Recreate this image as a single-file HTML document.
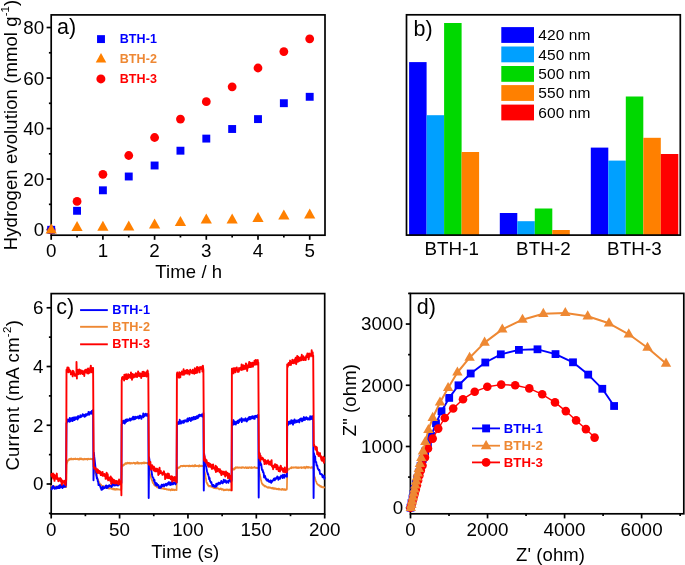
<!DOCTYPE html>
<html><head><meta charset="utf-8"><style>
html,body{margin:0;padding:0;background:#fff;width:685px;height:565px;overflow:hidden}
svg{display:block;font-family:"Liberation Sans", sans-serif;will-change:transform}
</style></head><body>
<svg width="685" height="565" viewBox="0 0 685 565">
<rect x="51.2" y="14.9" width="273.80" height="220.30" fill="none" stroke="#000" stroke-width="1.7"/>
<line x1="46.60" y1="229.60" x2="51.20" y2="229.60" stroke="#000" stroke-width="1.7"/>
<line x1="48.90" y1="204.34" x2="51.20" y2="204.34" stroke="#000" stroke-width="1.7"/>
<line x1="46.60" y1="179.08" x2="51.20" y2="179.08" stroke="#000" stroke-width="1.7"/>
<line x1="48.90" y1="153.82" x2="51.20" y2="153.82" stroke="#000" stroke-width="1.7"/>
<line x1="46.60" y1="128.56" x2="51.20" y2="128.56" stroke="#000" stroke-width="1.7"/>
<line x1="48.90" y1="103.30" x2="51.20" y2="103.30" stroke="#000" stroke-width="1.7"/>
<line x1="46.60" y1="78.04" x2="51.20" y2="78.04" stroke="#000" stroke-width="1.7"/>
<line x1="48.90" y1="52.78" x2="51.20" y2="52.78" stroke="#000" stroke-width="1.7"/>
<line x1="46.60" y1="27.52" x2="51.20" y2="27.52" stroke="#000" stroke-width="1.7"/>
<line x1="51.20" y1="235.20" x2="51.20" y2="239.80" stroke="#000" stroke-width="1.7"/>
<line x1="77.05" y1="235.20" x2="77.05" y2="237.50" stroke="#000" stroke-width="1.7"/>
<line x1="102.90" y1="235.20" x2="102.90" y2="239.80" stroke="#000" stroke-width="1.7"/>
<line x1="128.75" y1="235.20" x2="128.75" y2="237.50" stroke="#000" stroke-width="1.7"/>
<line x1="154.60" y1="235.20" x2="154.60" y2="239.80" stroke="#000" stroke-width="1.7"/>
<line x1="180.45" y1="235.20" x2="180.45" y2="237.50" stroke="#000" stroke-width="1.7"/>
<line x1="206.30" y1="235.20" x2="206.30" y2="239.80" stroke="#000" stroke-width="1.7"/>
<line x1="232.15" y1="235.20" x2="232.15" y2="237.50" stroke="#000" stroke-width="1.7"/>
<line x1="258.00" y1="235.20" x2="258.00" y2="239.80" stroke="#000" stroke-width="1.7"/>
<line x1="283.85" y1="235.20" x2="283.85" y2="237.50" stroke="#000" stroke-width="1.7"/>
<line x1="309.70" y1="235.20" x2="309.70" y2="239.80" stroke="#000" stroke-width="1.7"/>
<circle cx="51.20" cy="229.80" r="4.4" fill="#ff0000"/>
<circle cx="77.05" cy="201.40" r="4.4" fill="#ff0000"/>
<circle cx="102.90" cy="174.30" r="4.4" fill="#ff0000"/>
<circle cx="128.75" cy="155.50" r="4.4" fill="#ff0000"/>
<circle cx="154.60" cy="137.50" r="4.4" fill="#ff0000"/>
<circle cx="180.45" cy="119.10" r="4.4" fill="#ff0000"/>
<circle cx="206.30" cy="101.70" r="4.4" fill="#ff0000"/>
<circle cx="232.15" cy="86.80" r="4.4" fill="#ff0000"/>
<circle cx="258.00" cy="68.00" r="4.4" fill="#ff0000"/>
<circle cx="283.85" cy="51.60" r="4.4" fill="#ff0000"/>
<circle cx="309.70" cy="38.80" r="4.4" fill="#ff0000"/>
<rect x="47.25" y="225.85" width="7.9" height="7.9" fill="#0000ff"/>
<rect x="73.10" y="206.85" width="7.9" height="7.9" fill="#0000ff"/>
<rect x="98.95" y="186.35" width="7.9" height="7.9" fill="#0000ff"/>
<rect x="124.80" y="172.55" width="7.9" height="7.9" fill="#0000ff"/>
<rect x="150.65" y="161.55" width="7.9" height="7.9" fill="#0000ff"/>
<rect x="176.50" y="146.75" width="7.9" height="7.9" fill="#0000ff"/>
<rect x="202.35" y="134.65" width="7.9" height="7.9" fill="#0000ff"/>
<rect x="228.20" y="125.05" width="7.9" height="7.9" fill="#0000ff"/>
<rect x="254.05" y="115.15" width="7.9" height="7.9" fill="#0000ff"/>
<rect x="279.90" y="99.25" width="7.9" height="7.9" fill="#0000ff"/>
<rect x="305.75" y="92.85" width="7.9" height="7.9" fill="#0000ff"/>
<polygon points="45.60,233.60 56.80,233.60 51.20,223.60" fill="#ff8000"/>
<polygon points="71.45,231.00 82.65,231.00 77.05,221.00" fill="#ff8000"/>
<polygon points="97.30,230.80 108.50,230.80 102.90,220.80" fill="#ff8000"/>
<polygon points="123.15,230.40 134.35,230.40 128.75,220.40" fill="#ff8000"/>
<polygon points="149.00,228.60 160.20,228.60 154.60,218.60" fill="#ff8000"/>
<polygon points="174.85,226.00 186.05,226.00 180.45,216.00" fill="#ff8000"/>
<polygon points="200.70,223.40 211.90,223.40 206.30,213.40" fill="#ff8000"/>
<polygon points="226.55,223.40 237.75,223.40 232.15,213.40" fill="#ff8000"/>
<polygon points="252.40,221.90 263.60,221.90 258.00,211.90" fill="#ff8000"/>
<polygon points="278.25,219.40 289.45,219.40 283.85,209.40" fill="#ff8000"/>
<polygon points="304.10,218.40 315.30,218.40 309.70,208.40" fill="#ff8000"/>
<text x="44.3" y="236.20" font-size="18.8" text-anchor="end" font-weight="normal" fill="#000" letter-spacing="0.1" >0</text>
<text x="44.3" y="185.68" font-size="18.8" text-anchor="end" font-weight="normal" fill="#000" letter-spacing="0.1" >20</text>
<text x="44.3" y="135.16" font-size="18.8" text-anchor="end" font-weight="normal" fill="#000" letter-spacing="0.1" >40</text>
<text x="44.3" y="84.64" font-size="18.8" text-anchor="end" font-weight="normal" fill="#000" letter-spacing="0.1" >60</text>
<text x="44.3" y="34.12" font-size="18.8" text-anchor="end" font-weight="normal" fill="#000" letter-spacing="0.1" >80</text>
<text x="51.20" y="257.2" font-size="18.8" text-anchor="middle" font-weight="normal" fill="#000" letter-spacing="0.1" >0</text>
<text x="102.90" y="257.2" font-size="18.8" text-anchor="middle" font-weight="normal" fill="#000" letter-spacing="0.1" >1</text>
<text x="154.60" y="257.2" font-size="18.8" text-anchor="middle" font-weight="normal" fill="#000" letter-spacing="0.1" >2</text>
<text x="206.30" y="257.2" font-size="18.8" text-anchor="middle" font-weight="normal" fill="#000" letter-spacing="0.1" >3</text>
<text x="258.00" y="257.2" font-size="18.8" text-anchor="middle" font-weight="normal" fill="#000" letter-spacing="0.1" >4</text>
<text x="309.70" y="257.2" font-size="18.8" text-anchor="middle" font-weight="normal" fill="#000" letter-spacing="0.1" >5</text>
<text x="188.8" y="278.4" font-size="18.5" text-anchor="middle" font-weight="normal" fill="#000" letter-spacing="0.1" >Time / h</text>
<text transform="translate(17.2,250.3) rotate(-90)" font-size="18.5" letter-spacing="0.1">Hydrogen evolution (mmol g<tspan font-size="11.5" dy="-8">-1</tspan><tspan dy="8">)</tspan></text>
<text x="57.0" y="34.0" font-size="21.5" text-anchor="start" font-weight="normal" fill="#000" letter-spacing="0" >a)</text>
<rect x="97.05" y="35.15" width="7.9" height="7.9" fill="#0000ff"/>
<polygon points="95.75,62.40 106.25,62.40 101.00,53.00" fill="#ff8000"/>
<circle cx="100.90" cy="78.90" r="4.5" fill="#ff0000"/>
<text x="119.7" y="43.4" font-size="12.5" text-anchor="start" font-weight="bold" fill="#0000ff" letter-spacing="0.1" >BTH-1</text>
<text x="119.7" y="62.8" font-size="12.5" text-anchor="start" font-weight="bold" fill="#ee8833" letter-spacing="0.1" >BTH-2</text>
<text x="119.7" y="82.6" font-size="12.5" text-anchor="start" font-weight="bold" fill="#ff0000" letter-spacing="0.1" >BTH-3</text>
<rect x="409.10" y="62.1" width="17.5" height="173.00" fill="#0000ff"/>
<rect x="426.60" y="115.2" width="17.5" height="119.90" fill="#00a0ff"/>
<rect x="444.10" y="23.0" width="17.5" height="212.10" fill="#00d800"/>
<rect x="461.60" y="152.0" width="17.5" height="83.10" fill="#ff8000"/>
<rect x="499.80" y="213.0" width="17.5" height="22.10" fill="#0000ff"/>
<rect x="517.30" y="221.2" width="17.5" height="13.90" fill="#00a0ff"/>
<rect x="534.80" y="208.5" width="17.5" height="26.60" fill="#00d800"/>
<rect x="552.30" y="230.0" width="17.5" height="5.10" fill="#ff8000"/>
<rect x="590.80" y="147.6" width="17.5" height="87.50" fill="#0000ff"/>
<rect x="608.30" y="160.6" width="17.5" height="74.50" fill="#00a0ff"/>
<rect x="625.80" y="96.5" width="17.5" height="138.60" fill="#00d800"/>
<rect x="643.30" y="137.8" width="17.5" height="97.30" fill="#ff8000"/>
<rect x="660.80" y="154.0" width="17.5" height="81.10" fill="#ff0000"/>
<rect x="406.5" y="14.8" width="273.80" height="220.30" fill="none" stroke="#000" stroke-width="1.7"/>
<text x="451.8" y="254.8" font-size="18.8" text-anchor="middle" font-weight="normal" fill="#000" letter-spacing="0.1" >BTH-1</text>
<text x="543.4" y="254.8" font-size="18.8" text-anchor="middle" font-weight="normal" fill="#000" letter-spacing="0.1" >BTH-2</text>
<text x="634.5" y="254.8" font-size="18.8" text-anchor="middle" font-weight="normal" fill="#000" letter-spacing="0.1" >BTH-3</text>
<text x="413.6" y="35.8" font-size="21.5" text-anchor="start" font-weight="normal" fill="#000" letter-spacing="0" >b)</text>
<rect x="501.3" y="27.1" width="32.7" height="15.8" fill="#0000ff"/>
<text x="538.3" y="40.3" font-size="15.5" text-anchor="start" font-weight="normal" fill="#000" letter-spacing="0.1" >420 nm</text>
<rect x="501.3" y="46.5" width="32.7" height="15.8" fill="#00a0ff"/>
<text x="538.3" y="59.7" font-size="15.5" text-anchor="start" font-weight="normal" fill="#000" letter-spacing="0.1" >450 nm</text>
<rect x="501.3" y="66.0" width="32.7" height="15.8" fill="#00d800"/>
<text x="538.3" y="79.2" font-size="15.5" text-anchor="start" font-weight="normal" fill="#000" letter-spacing="0.1" >500 nm</text>
<rect x="501.3" y="85.1" width="32.7" height="15.8" fill="#ff8000"/>
<text x="538.3" y="98.3" font-size="15.5" text-anchor="start" font-weight="normal" fill="#000" letter-spacing="0.1" >550 nm</text>
<rect x="501.3" y="104.6" width="32.7" height="15.8" fill="#ff0000"/>
<text x="538.3" y="117.8" font-size="15.5" text-anchor="start" font-weight="normal" fill="#000" letter-spacing="0.1" >600 nm</text>
<rect x="51.2" y="293.6" width="273.50" height="220.30" fill="none" stroke="#000" stroke-width="1.7"/>
<line x1="48.90" y1="513.37" x2="51.20" y2="513.37" stroke="#000" stroke-width="1.7"/>
<line x1="46.60" y1="484.00" x2="51.20" y2="484.00" stroke="#000" stroke-width="1.7"/>
<line x1="48.90" y1="454.63" x2="51.20" y2="454.63" stroke="#000" stroke-width="1.7"/>
<line x1="46.60" y1="425.26" x2="51.20" y2="425.26" stroke="#000" stroke-width="1.7"/>
<line x1="48.90" y1="395.89" x2="51.20" y2="395.89" stroke="#000" stroke-width="1.7"/>
<line x1="46.60" y1="366.52" x2="51.20" y2="366.52" stroke="#000" stroke-width="1.7"/>
<line x1="48.90" y1="337.15" x2="51.20" y2="337.15" stroke="#000" stroke-width="1.7"/>
<line x1="46.60" y1="307.78" x2="51.20" y2="307.78" stroke="#000" stroke-width="1.7"/>
<line x1="51.20" y1="513.90" x2="51.20" y2="518.50" stroke="#000" stroke-width="1.7"/>
<line x1="85.39" y1="513.90" x2="85.39" y2="516.20" stroke="#000" stroke-width="1.7"/>
<line x1="119.58" y1="513.90" x2="119.58" y2="518.50" stroke="#000" stroke-width="1.7"/>
<line x1="153.76" y1="513.90" x2="153.76" y2="516.20" stroke="#000" stroke-width="1.7"/>
<line x1="187.95" y1="513.90" x2="187.95" y2="518.50" stroke="#000" stroke-width="1.7"/>
<line x1="222.14" y1="513.90" x2="222.14" y2="516.20" stroke="#000" stroke-width="1.7"/>
<line x1="256.32" y1="513.90" x2="256.32" y2="518.50" stroke="#000" stroke-width="1.7"/>
<line x1="290.51" y1="513.90" x2="290.51" y2="516.20" stroke="#000" stroke-width="1.7"/>
<line x1="324.70" y1="513.90" x2="324.70" y2="518.50" stroke="#000" stroke-width="1.7"/>
<path d="M51.20,487.01 L51.45,485.87 L51.71,486.62 L51.96,486.38 L52.22,486.42 L52.47,486.49 L52.73,486.05 L52.98,486.50 L53.23,486.35 L53.49,487.41 L53.74,486.64 L54.00,486.51 L54.25,486.53 L54.51,486.44 L54.76,486.35 L55.01,486.53 L55.27,486.76 L55.52,486.58 L55.78,486.89 L56.03,486.61 L56.28,486.68 L56.54,487.06 L56.79,486.82 L57.05,486.57 L57.30,486.66 L57.56,486.85 L57.81,487.20 L58.06,486.66 L58.32,486.68 L58.57,487.00 L58.83,486.53 L59.08,486.69 L59.34,486.99 L59.59,486.92 L59.84,486.81 L60.10,486.96 L60.35,486.10 L60.61,487.07 L60.86,486.58 L61.12,486.41 L61.37,486.91 L61.62,487.02 L61.88,486.74 L62.13,486.60 L62.39,486.88 L62.64,486.87 L62.89,487.24 L63.15,487.09 L63.40,486.96 L63.66,487.19 L63.91,486.87 L64.17,486.70 L64.42,487.09 L64.67,487.09 L64.93,486.90 L65.18,486.77 L65.44,487.03 L65.69,486.36 L65.95,487.16 L66.20,487.12 L66.20,487.12 L66.60,465.00 L66.60,464.51 L66.85,463.87 L67.11,462.46 L67.36,462.03 L67.61,460.53 L67.86,460.52 L68.12,460.72 L68.37,460.58 L68.62,459.34 L68.88,459.62 L69.13,459.68 L69.38,459.23 L69.63,459.75 L69.89,458.80 L70.14,459.18 L70.39,458.71 L70.65,459.42 L70.90,458.99 L71.15,458.89 L71.40,458.48 L71.66,459.50 L71.91,459.23 L72.16,459.23 L72.42,459.34 L72.67,459.10 L72.92,458.81 L73.17,458.76 L73.43,458.76 L73.68,459.41 L73.93,458.56 L74.18,458.82 L74.44,458.90 L74.69,459.07 L74.94,459.17 L75.20,458.63 L75.45,458.48 L75.70,459.00 L75.95,459.37 L76.21,459.23 L76.46,459.07 L76.71,458.91 L76.97,459.09 L77.22,458.93 L77.47,459.25 L77.72,458.76 L77.98,459.04 L78.23,458.97 L78.48,459.17 L78.74,459.07 L78.99,459.77 L79.24,459.45 L79.49,459.45 L79.75,458.39 L80.00,458.90 L80.25,458.82 L80.51,459.17 L80.76,458.32 L81.01,459.36 L81.26,459.33 L81.52,458.62 L81.77,458.72 L82.02,458.77 L82.28,459.03 L82.53,459.21 L82.78,459.63 L83.03,458.96 L83.29,459.25 L83.54,459.06 L83.79,459.55 L84.05,459.24 L84.30,459.43 L84.55,458.70 L84.80,458.97 L85.06,458.78 L85.31,459.48 L85.56,459.23 L85.82,458.94 L86.07,458.90 L86.32,459.18 L86.57,458.82 L86.83,458.76 L87.08,459.18 L87.33,459.78 L87.58,458.97 L87.84,458.88 L88.09,458.69 L88.34,458.65 L88.60,459.21 L88.85,459.31 L89.10,459.06 L89.35,459.16 L89.61,459.09 L89.86,459.10 L90.11,458.60 L90.37,458.93 L90.62,459.10 L90.87,458.84 L91.12,458.93 L91.38,458.83 L91.63,458.98 L91.88,459.34 L92.14,458.96 L92.39,459.04 L92.64,459.33 L92.89,459.29 L93.15,459.61 L93.40,458.47 L94.00,471.00 L94.00,471.26 L94.25,471.36 L94.51,472.05 L94.76,472.76 L95.01,473.34 L95.27,473.84 L95.52,474.08 L95.78,475.03 L96.03,474.98 L96.28,475.56 L96.54,476.41 L96.79,476.60 L97.04,478.03 L97.30,478.31 L97.55,479.29 L97.81,479.27 L98.06,479.79 L98.31,480.57 L98.57,481.35 L98.82,481.53 L99.07,482.36 L99.33,482.76 L99.58,483.71 L99.84,483.45 L100.09,484.33 L100.34,484.13 L100.60,484.27 L100.85,484.54 L101.10,484.58 L101.36,485.16 L101.61,485.60 L101.86,485.51 L102.12,485.81 L102.37,486.28 L102.63,486.02 L102.88,486.15 L103.13,486.15 L103.39,485.89 L103.64,486.73 L103.89,486.10 L104.15,486.95 L104.40,486.87 L104.66,487.32 L104.91,487.07 L105.16,486.95 L105.42,487.41 L105.67,487.23 L105.92,487.43 L106.18,487.58 L106.43,487.61 L106.69,487.68 L106.94,487.56 L107.19,487.82 L107.45,487.30 L107.70,487.96 L107.95,487.71 L108.21,488.46 L108.46,488.55 L108.71,487.63 L108.97,488.31 L109.22,488.27 L109.48,488.03 L109.73,488.54 L109.98,488.28 L110.24,487.93 L110.49,488.41 L110.74,488.49 L111.00,488.60 L111.25,488.23 L111.51,488.82 L111.76,488.89 L112.01,488.36 L112.27,488.54 L112.52,488.75 L112.77,488.64 L113.03,489.36 L113.28,488.93 L113.54,488.59 L113.79,488.69 L114.04,488.94 L114.30,489.67 L114.55,488.96 L114.80,489.08 L115.06,489.22 L115.31,489.08 L115.56,489.80 L115.82,488.98 L116.07,489.38 L116.33,489.23 L116.58,489.39 L116.83,488.87 L117.09,489.77 L117.34,489.22 L117.59,489.28 L117.85,489.01 L118.10,489.08 L118.36,489.49 L118.61,489.63 L118.86,489.57 L119.12,489.72 L119.37,489.58 L119.62,489.38 L119.88,489.63 L120.13,489.56 L120.39,489.36 L120.64,489.61 L120.89,489.78 L121.15,489.47 L121.40,489.29 L121.40,489.29 L121.80,465.50 L121.80,465.72 L122.05,466.06 L122.31,465.41 L122.56,465.42 L122.81,465.37 L123.06,465.73 L123.32,464.70 L123.57,465.20 L123.82,465.25 L124.08,464.43 L124.33,464.88 L124.58,464.35 L124.83,463.80 L125.09,463.82 L125.34,463.13 L125.59,463.30 L125.85,463.95 L126.10,463.12 L126.35,463.93 L126.60,463.34 L126.86,463.66 L127.11,463.36 L127.36,462.66 L127.62,463.16 L127.87,463.37 L128.12,462.96 L128.37,462.89 L128.63,463.40 L128.88,463.08 L129.13,462.76 L129.38,463.06 L129.64,463.51 L129.89,463.10 L130.14,463.52 L130.40,463.69 L130.65,463.23 L130.90,462.87 L131.15,462.81 L131.41,463.19 L131.66,463.45 L131.91,463.26 L132.17,463.34 L132.42,463.04 L132.67,463.25 L132.92,463.02 L133.18,463.05 L133.43,462.76 L133.68,462.67 L133.94,462.99 L134.19,462.80 L134.44,462.83 L134.69,463.32 L134.95,463.08 L135.20,463.98 L135.45,463.38 L135.71,462.91 L135.96,463.33 L136.21,463.20 L136.46,462.88 L136.72,463.41 L136.97,462.84 L137.22,462.15 L137.48,463.31 L137.73,462.88 L137.98,463.51 L138.23,462.86 L138.49,462.70 L138.74,463.52 L138.99,462.73 L139.25,463.11 L139.50,463.48 L139.75,463.07 L140.00,463.01 L140.26,463.07 L140.51,463.28 L140.76,462.79 L141.02,463.21 L141.27,463.20 L141.52,463.72 L141.77,462.92 L142.03,462.75 L142.28,463.24 L142.53,462.90 L142.78,463.10 L143.04,463.05 L143.29,463.36 L143.54,462.81 L143.80,462.98 L144.05,462.24 L144.30,462.74 L144.55,463.47 L144.81,462.80 L145.06,462.79 L145.31,462.64 L145.57,463.18 L145.82,463.06 L146.07,462.65 L146.32,463.20 L146.58,463.08 L146.83,463.23 L147.08,462.81 L147.34,463.52 L147.59,463.12 L147.84,462.97 L148.09,462.84 L148.35,462.93 L148.60,463.26 L149.20,470.50 L149.20,470.42 L149.45,472.05 L149.71,473.09 L149.96,474.40 L150.21,475.13 L150.47,475.73 L150.72,476.02 L150.98,477.50 L151.23,478.46 L151.48,479.05 L151.74,479.91 L151.99,480.32 L152.24,481.02 L152.50,481.48 L152.75,482.76 L153.01,482.93 L153.26,483.21 L153.51,483.37 L153.77,484.08 L154.02,484.84 L154.27,484.78 L154.53,484.64 L154.78,485.51 L155.04,485.72 L155.29,485.78 L155.54,485.92 L155.80,486.21 L156.05,486.21 L156.30,486.45 L156.56,486.14 L156.81,486.98 L157.06,486.75 L157.32,487.43 L157.57,486.35 L157.83,487.30 L158.08,487.51 L158.33,487.23 L158.59,487.57 L158.84,487.77 L159.09,487.82 L159.35,487.57 L159.60,487.78 L159.86,488.21 L160.11,488.37 L160.36,488.08 L160.62,488.15 L160.87,488.24 L161.12,488.55 L161.38,487.98 L161.63,487.95 L161.89,488.43 L162.14,488.11 L162.39,488.32 L162.65,488.57 L162.90,488.73 L163.15,488.31 L163.41,488.92 L163.66,488.20 L163.91,488.94 L164.17,488.34 L164.42,488.48 L164.68,489.10 L164.93,488.83 L165.18,488.75 L165.44,488.90 L165.69,489.21 L165.94,489.09 L166.20,489.14 L166.45,489.50 L166.71,489.01 L166.96,489.12 L167.21,489.14 L167.47,489.68 L167.72,489.67 L167.97,489.79 L168.23,489.42 L168.48,489.42 L168.74,489.75 L168.99,489.41 L169.24,489.81 L169.50,489.80 L169.75,489.40 L170.00,489.62 L170.26,489.63 L170.51,490.21 L170.76,490.49 L171.02,489.71 L171.27,489.77 L171.53,489.10 L171.78,489.87 L172.03,489.82 L172.29,489.52 L172.54,490.10 L172.79,489.41 L173.05,489.83 L173.30,489.95 L173.56,489.55 L173.81,490.19 L174.06,490.26 L174.32,489.54 L174.57,489.54 L174.82,490.15 L175.08,489.97 L175.33,489.62 L175.59,489.90 L175.84,489.96 L176.09,489.95 L176.35,490.25 L176.60,490.12 L176.60,490.12 L177.00,467.60 L177.00,468.13 L177.25,468.13 L177.51,468.01 L177.76,468.19 L178.02,468.30 L178.27,468.09 L178.53,467.42 L178.78,467.90 L179.03,467.46 L179.29,467.69 L179.54,466.99 L179.80,466.86 L180.05,466.56 L180.31,466.75 L180.56,466.12 L180.81,465.87 L181.07,465.99 L181.32,465.77 L181.58,465.95 L181.83,465.90 L182.09,465.98 L182.34,466.48 L182.59,465.78 L182.85,465.91 L183.10,465.84 L183.36,466.10 L183.61,465.55 L183.87,465.69 L184.12,465.89 L184.37,466.06 L184.63,465.89 L184.88,465.75 L185.14,465.64 L185.39,466.05 L185.65,466.33 L185.90,466.00 L186.15,465.96 L186.41,466.03 L186.66,465.62 L186.92,465.81 L187.17,465.82 L187.43,465.99 L187.68,465.89 L187.93,465.54 L188.19,466.24 L188.44,466.41 L188.70,465.82 L188.95,466.02 L189.21,465.98 L189.46,466.14 L189.71,465.46 L189.97,466.38 L190.22,465.76 L190.48,466.28 L190.73,465.92 L190.99,465.78 L191.24,465.86 L191.49,466.17 L191.75,465.64 L192.00,465.79 L192.26,465.76 L192.51,465.39 L192.77,466.29 L193.02,466.07 L193.27,465.89 L193.53,466.25 L193.78,465.61 L194.04,465.88 L194.29,466.42 L194.55,466.19 L194.80,465.23 L195.05,464.90 L195.31,465.59 L195.56,466.22 L195.82,465.76 L196.07,465.83 L196.33,466.08 L196.58,465.63 L196.83,465.96 L197.09,466.14 L197.34,466.04 L197.60,466.02 L197.85,465.72 L198.11,466.05 L198.36,465.77 L198.61,466.29 L198.87,466.67 L199.12,465.68 L199.38,465.25 L199.63,465.77 L199.89,466.01 L200.14,466.22 L200.39,466.22 L200.65,465.66 L200.90,465.66 L201.16,466.28 L201.41,465.57 L201.67,466.23 L201.92,465.83 L202.17,466.13 L202.43,466.11 L202.68,466.13 L202.94,466.15 L203.19,465.60 L203.45,465.99 L203.70,465.90 L204.30,470.50 L204.30,470.59 L204.55,471.92 L204.81,472.57 L205.06,473.61 L205.31,474.86 L205.56,476.51 L205.82,478.50 L206.07,479.68 L206.32,481.71 L206.57,482.52 L206.83,482.96 L207.08,483.10 L207.33,484.00 L207.59,484.51 L207.84,484.12 L208.09,485.31 L208.34,485.72 L208.60,485.55 L208.85,485.80 L209.10,486.53 L209.36,486.31 L209.61,485.77 L209.86,486.13 L210.11,486.19 L210.37,486.28 L210.62,485.71 L210.87,486.74 L211.12,486.41 L211.38,486.74 L211.63,486.73 L211.88,487.12 L212.14,486.86 L212.39,486.79 L212.64,487.27 L212.89,487.61 L213.15,487.17 L213.40,487.76 L213.65,487.50 L213.91,487.34 L214.16,488.03 L214.41,487.40 L214.66,488.03 L214.92,487.64 L215.17,488.00 L215.42,487.56 L215.67,487.75 L215.93,488.38 L216.18,488.19 L216.43,488.20 L216.69,488.12 L216.94,488.45 L217.19,487.96 L217.44,488.10 L217.70,488.45 L217.95,488.30 L218.20,488.39 L218.46,488.64 L218.71,488.67 L218.96,488.70 L219.21,489.31 L219.47,489.17 L219.72,489.28 L219.97,488.95 L220.22,488.86 L220.48,488.62 L220.73,488.99 L220.98,488.51 L221.24,489.01 L221.49,489.45 L221.74,489.75 L221.99,489.59 L222.25,489.08 L222.50,489.52 L222.75,489.17 L223.01,489.69 L223.26,489.44 L223.51,489.77 L223.76,490.31 L224.02,489.85 L224.27,490.30 L224.52,489.68 L224.77,489.55 L225.03,490.08 L225.28,490.22 L225.53,489.56 L225.79,489.77 L226.04,489.34 L226.29,489.73 L226.54,490.08 L226.80,489.80 L227.05,489.68 L227.30,489.44 L227.56,489.99 L227.81,490.13 L228.06,490.09 L228.31,490.00 L228.57,489.55 L228.82,490.47 L229.07,489.94 L229.32,489.92 L229.58,490.19 L229.83,489.33 L230.08,489.96 L230.34,489.95 L230.59,490.10 L230.84,490.40 L231.09,490.14 L231.35,489.45 L231.60,489.90 L231.60,489.90 L232.00,468.80 L232.00,468.86 L232.25,469.12 L232.51,468.93 L232.76,469.00 L233.01,469.76 L233.27,469.69 L233.52,469.49 L233.77,468.83 L234.03,469.68 L234.28,468.05 L234.53,468.56 L234.79,469.04 L235.04,468.13 L235.29,468.03 L235.55,467.43 L235.80,468.06 L236.05,467.21 L236.31,467.68 L236.56,467.64 L236.81,467.28 L237.07,467.87 L237.32,467.18 L237.57,467.40 L237.83,467.59 L238.08,467.48 L238.33,467.74 L238.59,467.88 L238.84,467.51 L239.09,467.44 L239.35,467.45 L239.60,467.49 L239.85,467.84 L240.11,467.54 L240.36,467.72 L240.61,467.57 L240.87,467.35 L241.12,467.86 L241.37,467.29 L241.63,467.60 L241.88,468.05 L242.13,467.28 L242.39,467.59 L242.64,467.13 L242.89,467.45 L243.15,467.16 L243.40,467.50 L243.65,467.45 L243.91,467.65 L244.16,468.08 L244.41,467.69 L244.67,467.81 L244.92,467.60 L245.17,467.54 L245.43,467.36 L245.68,467.08 L245.93,467.64 L246.19,468.11 L246.44,467.76 L246.69,467.46 L246.95,468.12 L247.20,467.49 L247.45,467.44 L247.71,467.26 L247.96,467.34 L248.21,467.56 L248.47,468.23 L248.72,467.57 L248.97,467.33 L249.23,467.46 L249.48,467.58 L249.73,467.13 L249.99,467.69 L250.24,467.86 L250.49,467.75 L250.75,467.84 L251.00,467.27 L251.25,467.15 L251.51,468.05 L251.76,468.00 L252.01,467.21 L252.27,467.74 L252.52,467.69 L252.77,467.84 L253.03,467.75 L253.28,467.54 L253.53,467.75 L253.79,467.74 L254.04,467.69 L254.29,467.15 L254.55,466.81 L254.80,467.48 L255.05,467.23 L255.31,467.80 L255.56,467.94 L255.81,467.81 L256.07,467.63 L256.32,467.77 L256.57,468.10 L256.83,467.54 L257.08,468.04 L257.33,467.98 L257.59,467.85 L257.84,468.22 L258.09,467.57 L258.35,468.08 L258.60,467.52 L259.20,471.90 L259.20,471.67 L259.45,472.77 L259.71,474.37 L259.96,475.06 L260.22,476.39 L260.47,477.10 L260.72,478.85 L260.98,480.16 L261.23,480.71 L261.49,482.10 L261.74,482.62 L262.00,483.82 L262.25,483.73 L262.50,483.59 L262.76,484.82 L263.01,484.62 L263.27,484.62 L263.52,484.99 L263.77,484.94 L264.03,485.60 L264.28,485.53 L264.54,486.48 L264.79,486.41 L265.04,485.86 L265.30,486.05 L265.55,486.46 L265.81,486.16 L266.06,486.80 L266.32,486.91 L266.57,486.76 L266.82,486.89 L267.08,487.27 L267.33,487.61 L267.59,487.69 L267.84,487.31 L268.09,487.62 L268.35,487.20 L268.60,487.60 L268.86,487.24 L269.11,487.81 L269.37,487.27 L269.62,487.41 L269.87,487.75 L270.13,487.97 L270.38,487.42 L270.64,487.74 L270.89,488.00 L271.14,488.07 L271.40,487.80 L271.65,488.13 L271.91,488.07 L272.16,488.61 L272.41,488.40 L272.67,487.88 L272.92,487.67 L273.18,488.40 L273.43,488.76 L273.69,488.50 L273.94,488.76 L274.19,488.39 L274.45,488.16 L274.70,488.83 L274.96,488.67 L275.21,488.89 L275.46,488.30 L275.72,488.81 L275.97,488.60 L276.23,489.06 L276.48,488.68 L276.73,488.70 L276.99,488.74 L277.24,489.32 L277.50,488.98 L277.75,488.77 L278.01,488.72 L278.26,488.74 L278.51,489.52 L278.77,488.56 L279.02,488.88 L279.28,489.35 L279.53,489.53 L279.78,489.15 L280.04,489.46 L280.29,489.47 L280.55,489.56 L280.80,489.29 L281.06,489.79 L281.31,489.38 L281.56,489.80 L281.82,489.02 L282.07,489.65 L282.33,489.01 L282.58,488.95 L282.83,489.56 L283.09,489.17 L283.34,489.57 L283.60,489.12 L283.85,489.94 L284.10,489.47 L284.36,489.13 L284.61,489.53 L284.87,489.75 L285.12,489.26 L285.38,489.65 L285.63,490.12 L285.88,489.77 L286.14,489.51 L286.39,489.34 L286.65,489.69 L286.90,489.06 L286.90,489.06 L287.30,468.50 L287.30,467.60 L287.55,468.65 L287.81,468.83 L288.06,469.91 L288.32,469.55 L288.57,469.20 L288.83,469.06 L289.08,469.41 L289.33,468.81 L289.59,468.65 L289.84,468.55 L290.10,468.35 L290.35,468.11 L290.61,467.90 L290.86,468.08 L291.12,468.08 L291.37,467.03 L291.62,468.29 L291.88,467.56 L292.13,467.89 L292.39,467.30 L292.64,467.62 L292.90,467.59 L293.15,467.56 L293.40,467.78 L293.66,467.71 L293.91,467.22 L294.17,467.49 L294.42,467.74 L294.68,467.73 L294.93,467.42 L295.19,467.44 L295.44,467.48 L295.69,467.19 L295.95,467.14 L296.20,467.99 L296.46,467.40 L296.71,467.55 L296.97,467.30 L297.22,467.91 L297.47,468.05 L297.73,467.46 L297.98,467.68 L298.24,467.30 L298.49,468.05 L298.75,467.80 L299.00,467.27 L299.26,467.90 L299.51,467.63 L299.76,467.65 L300.02,467.63 L300.27,467.32 L300.53,467.36 L300.78,467.71 L301.04,467.51 L301.29,467.24 L301.54,468.13 L301.80,467.46 L302.05,467.35 L302.31,467.31 L302.56,467.73 L302.82,467.81 L303.07,467.59 L303.33,467.78 L303.58,467.07 L303.83,467.41 L304.09,467.38 L304.34,467.52 L304.60,467.67 L304.85,466.91 L305.11,468.46 L305.36,467.26 L305.61,467.62 L305.87,467.77 L306.12,467.77 L306.38,467.59 L306.63,466.64 L306.89,467.19 L307.14,467.74 L307.40,467.24 L307.65,467.20 L307.90,466.81 L308.16,467.88 L308.41,467.67 L308.67,467.25 L308.92,467.47 L309.18,467.48 L309.43,467.18 L309.68,467.43 L309.94,467.59 L310.19,467.68 L310.45,467.89 L310.70,467.52 L310.96,467.37 L311.21,467.63 L311.47,467.32 L311.72,467.13 L311.97,467.85 L312.23,467.39 L312.48,467.54 L312.74,467.70 L312.99,467.17 L313.25,467.70 L313.50,467.64 L314.10,474.50 L314.10,474.48 L314.36,475.92 L314.62,476.81 L314.88,477.43 L315.13,478.82 L315.39,479.37 L315.65,480.61 L315.91,481.10 L316.17,481.49 L316.43,482.25 L316.69,483.18 L316.94,483.61 L317.20,483.83 L317.46,484.23 L317.72,484.35 L317.98,484.66 L318.24,485.08 L318.50,485.06 L318.75,485.37 L319.01,485.12 L319.27,485.12 L319.53,485.28 L319.79,485.81 L320.05,486.49 L320.30,486.59 L320.56,486.07 L320.82,486.03 L321.08,486.86 L321.34,486.87 L321.60,486.42 L321.86,487.24 L322.11,487.06 L322.37,487.48 L322.63,487.25 L322.89,487.47 L323.15,487.34 L323.41,486.99 L323.67,487.22 L323.92,487.10 L324.18,487.55 L324.44,487.01 L324.70,486.84" fill="none" stroke="#ee8833" stroke-width="1.7" stroke-linejoin="round"/>
<path d="M51.20,488.63 L51.46,489.03 L51.71,489.27 L51.97,488.93 L52.22,486.57 L52.48,487.28 L52.73,487.39 L52.99,487.83 L53.24,485.89 L53.50,487.79 L53.75,488.02 L54.01,486.89 L54.26,487.82 L54.52,488.76 L54.77,487.70 L55.03,488.57 L55.28,488.50 L55.54,487.93 L55.79,487.87 L56.05,487.15 L56.30,488.57 L56.56,487.00 L56.81,486.76 L57.07,487.98 L57.32,486.66 L57.58,487.66 L57.83,488.19 L58.09,487.27 L58.34,487.25 L58.60,487.94 L58.86,487.75 L59.11,485.65 L59.37,485.81 L59.62,488.14 L59.88,487.25 L60.13,484.98 L60.39,485.59 L60.64,486.78 L60.90,485.82 L61.15,487.08 L61.41,486.67 L61.66,486.99 L61.92,485.45 L62.17,487.00 L62.43,488.15 L62.68,485.62 L62.94,487.46 L63.19,487.10 L63.45,486.74 L63.70,486.04 L63.96,484.99 L64.21,485.18 L64.47,486.60 L64.72,486.73 L64.98,486.88 L65.23,486.58 L65.49,486.47 L65.74,485.20 L66.00,484.43 L66.50,424.00 L66.50,423.23 L66.75,422.96 L67.01,421.98 L67.26,419.81 L67.51,420.46 L67.77,419.42 L68.02,420.95 L68.27,419.67 L68.53,420.46 L68.78,420.86 L69.03,420.59 L69.29,421.73 L69.54,419.17 L69.79,418.00 L70.05,421.04 L70.30,421.41 L70.55,421.35 L70.81,420.12 L71.06,420.29 L71.31,419.78 L71.57,418.27 L71.82,418.91 L72.07,419.89 L72.33,418.73 L72.58,421.12 L72.83,417.59 L73.09,418.60 L73.34,420.06 L73.59,418.25 L73.85,417.64 L74.10,417.33 L74.35,417.87 L74.61,420.02 L74.86,418.83 L75.11,418.85 L75.37,417.72 L75.62,419.00 L75.87,418.17 L76.13,417.06 L76.38,417.44 L76.63,418.00 L76.89,418.88 L77.14,417.56 L77.39,418.03 L77.65,419.46 L77.90,416.56 L78.15,416.03 L78.41,418.16 L78.66,417.53 L78.91,416.90 L79.17,417.18 L79.42,416.50 L79.67,417.25 L79.93,416.31 L80.18,417.36 L80.43,415.30 L80.69,415.57 L80.94,416.41 L81.19,415.74 L81.45,416.81 L81.70,415.99 L81.95,415.40 L82.21,416.06 L82.46,415.23 L82.71,414.12 L82.97,414.45 L83.22,414.70 L83.47,414.94 L83.73,415.42 L83.98,416.14 L84.23,415.70 L84.49,416.84 L84.74,416.24 L84.99,414.69 L85.25,416.44 L85.50,415.89 L85.75,414.16 L86.01,414.84 L86.26,415.53 L86.51,414.59 L86.77,415.28 L87.02,414.57 L87.27,414.79 L87.53,413.68 L87.78,414.29 L88.03,413.46 L88.29,414.41 L88.54,411.95 L88.79,413.89 L89.05,414.72 L89.30,413.96 L89.55,413.26 L89.81,413.74 L90.06,412.27 L90.31,412.19 L90.57,412.58 L90.82,412.70 L91.07,413.72 L91.33,411.77 L91.58,413.58 L91.83,410.92 L92.09,411.61 L92.34,412.28 L92.59,413.38 L92.85,411.52 L93.10,409.90 L93.50,480.30 L93.90,452.70 L93.90,453.12 L94.26,456.92 L94.61,459.72 L94.97,463.11 L95.33,466.42 L95.69,469.81 L96.04,472.71 L96.40,472.91 L96.76,478.21 L97.11,477.81 L97.47,479.03 L97.83,481.33 L98.19,482.04 L98.54,485.12 L98.90,484.97 L99.26,484.52 L99.61,485.27 L99.97,485.86 L100.33,486.62 L100.69,488.08 L101.04,487.38 L101.40,489.86 L101.76,488.72 L102.11,488.57 L102.47,489.41 L102.83,486.62 L103.19,487.41 L103.54,488.64 L103.90,487.97 L104.26,487.81 L104.61,488.03 L104.97,486.99 L105.33,487.24 L105.69,486.03 L106.04,485.44 L106.40,488.13 L106.76,486.02 L107.11,486.09 L107.47,487.86 L107.83,487.43 L108.19,485.88 L108.54,485.76 L108.90,486.04 L109.26,485.14 L109.61,486.38 L109.97,485.90 L110.33,485.78 L110.69,486.23 L111.04,486.09 L111.40,487.00 L111.76,486.60 L112.11,483.60 L112.47,485.85 L112.83,483.94 L113.19,483.57 L113.54,485.40 L113.90,484.04 L114.26,484.30 L114.61,485.47 L114.97,483.83 L115.33,483.54 L115.69,484.57 L116.04,485.30 L116.40,484.61 L116.76,482.67 L117.11,483.41 L117.47,483.80 L117.83,485.62 L118.19,484.63 L118.54,484.54 L118.90,484.81 L119.26,483.41 L119.61,484.08 L119.97,484.06 L120.33,482.71 L120.69,483.55 L121.04,484.05 L121.40,482.56 L121.70,424.60 L121.70,424.45 L121.95,423.83 L122.21,423.55 L122.46,421.17 L122.71,421.71 L122.97,422.99 L123.22,422.26 L123.47,420.61 L123.73,421.55 L123.98,422.68 L124.23,421.11 L124.49,421.50 L124.74,423.61 L124.99,420.94 L125.25,420.80 L125.50,419.83 L125.75,420.11 L126.01,422.18 L126.26,420.48 L126.51,419.37 L126.77,419.55 L127.02,420.42 L127.27,421.11 L127.53,419.53 L127.78,420.91 L128.03,419.64 L128.29,420.41 L128.54,420.51 L128.79,420.52 L129.05,419.41 L129.30,419.60 L129.55,420.21 L129.81,418.34 L130.06,419.73 L130.31,420.00 L130.57,420.46 L130.82,419.31 L131.07,419.09 L131.33,419.34 L131.58,418.40 L131.83,418.85 L132.09,419.40 L132.34,419.20 L132.59,417.80 L132.85,418.45 L133.10,416.59 L133.35,419.43 L133.61,418.03 L133.86,418.73 L134.11,417.32 L134.37,418.26 L134.62,418.72 L134.87,419.18 L135.13,416.77 L135.38,418.90 L135.63,417.82 L135.89,417.14 L136.14,418.32 L136.39,417.48 L136.65,417.41 L136.90,416.93 L137.15,417.79 L137.41,417.53 L137.66,417.25 L137.91,416.40 L138.17,416.77 L138.42,417.61 L138.67,418.42 L138.93,417.04 L139.18,418.41 L139.43,416.92 L139.69,415.77 L139.94,417.42 L140.19,415.75 L140.45,417.05 L140.70,417.65 L140.95,416.20 L141.21,416.35 L141.46,418.84 L141.71,416.54 L141.97,416.49 L142.22,416.94 L142.47,415.99 L142.73,415.93 L142.98,416.33 L143.23,413.49 L143.49,417.23 L143.74,414.68 L143.99,414.59 L144.25,416.14 L144.50,415.56 L144.75,414.21 L145.01,415.60 L145.26,414.18 L145.51,414.56 L145.77,413.68 L146.02,414.29 L146.27,415.44 L146.53,415.10 L146.78,415.21 L147.03,415.75 L147.29,414.72 L147.54,414.03 L147.79,414.34 L148.05,416.20 L148.30,414.52 L148.70,498.10 L149.10,457.30 L149.10,457.57 L149.46,459.98 L149.81,462.83 L150.17,465.33 L150.53,467.06 L150.89,468.87 L151.24,470.09 L151.60,471.66 L151.96,474.28 L152.31,475.95 L152.67,477.35 L153.03,477.71 L153.39,477.96 L153.74,480.22 L154.10,481.08 L154.46,479.97 L154.81,482.77 L155.17,483.24 L155.53,484.82 L155.89,482.87 L156.24,483.25 L156.60,485.57 L156.96,483.68 L157.31,485.02 L157.67,485.06 L158.03,485.45 L158.39,484.95 L158.74,486.72 L159.10,488.06 L159.46,487.43 L159.81,487.29 L160.17,486.42 L160.53,487.90 L160.89,486.93 L161.24,487.26 L161.60,484.79 L161.96,486.36 L162.31,484.89 L162.67,486.10 L163.03,485.83 L163.39,484.52 L163.74,485.56 L164.10,486.32 L164.46,485.61 L164.81,485.57 L165.17,484.15 L165.53,484.20 L165.89,483.70 L166.24,484.70 L166.60,485.54 L166.96,484.76 L167.31,484.27 L167.67,483.16 L168.03,484.47 L168.39,483.76 L168.74,482.17 L169.10,482.24 L169.46,483.39 L169.81,482.81 L170.17,485.01 L170.53,483.48 L170.89,482.44 L171.24,482.86 L171.60,484.65 L171.96,482.30 L172.31,483.78 L172.67,483.42 L173.03,484.28 L173.39,483.38 L173.74,482.50 L174.10,483.28 L174.46,482.82 L174.81,483.60 L175.17,482.63 L175.53,484.43 L175.89,482.54 L176.24,483.01 L176.60,482.02 L176.90,426.00 L176.90,425.13 L177.15,424.47 L177.41,424.05 L177.66,424.21 L177.92,422.44 L178.17,422.05 L178.43,423.92 L178.68,422.45 L178.94,421.99 L179.19,423.73 L179.45,423.27 L179.70,419.79 L179.96,421.96 L180.21,423.04 L180.47,423.01 L180.72,421.59 L180.98,423.58 L181.23,421.16 L181.49,421.64 L181.74,421.91 L182.00,421.70 L182.25,422.43 L182.51,422.57 L182.76,421.43 L183.02,422.78 L183.27,420.63 L183.53,421.02 L183.78,422.87 L184.03,421.17 L184.29,422.06 L184.54,420.49 L184.80,420.58 L185.05,420.65 L185.31,420.85 L185.56,420.27 L185.82,420.54 L186.07,421.11 L186.33,421.56 L186.58,420.39 L186.84,420.85 L187.09,421.04 L187.35,418.98 L187.60,418.40 L187.86,421.50 L188.11,421.12 L188.37,419.79 L188.62,420.00 L188.88,418.64 L189.13,418.12 L189.39,419.73 L189.64,417.85 L189.90,420.16 L190.15,418.50 L190.40,419.38 L190.66,420.94 L190.91,420.81 L191.17,418.58 L191.42,419.84 L191.68,417.67 L191.93,418.03 L192.19,418.90 L192.44,419.83 L192.70,417.80 L192.95,418.83 L193.21,418.32 L193.46,416.88 L193.72,417.92 L193.97,419.47 L194.23,417.80 L194.48,418.31 L194.74,418.56 L194.99,416.92 L195.25,418.80 L195.50,418.99 L195.76,419.01 L196.01,418.64 L196.27,416.79 L196.52,416.59 L196.77,416.31 L197.03,416.11 L197.28,416.14 L197.54,417.84 L197.79,418.23 L198.05,416.06 L198.30,417.42 L198.56,415.27 L198.81,416.13 L199.07,415.38 L199.32,414.67 L199.58,416.27 L199.83,416.21 L200.09,415.65 L200.34,415.45 L200.60,414.91 L200.85,415.68 L201.11,415.13 L201.36,415.89 L201.62,414.37 L201.87,415.72 L202.13,415.92 L202.38,416.57 L202.64,416.30 L202.89,415.36 L203.15,414.41 L203.40,413.18 L203.80,490.60 L204.20,453.80 L204.20,453.80 L204.56,458.05 L204.91,460.98 L205.27,459.68 L205.62,463.55 L205.98,465.99 L206.34,467.26 L206.69,470.10 L207.05,471.55 L207.40,472.49 L207.76,474.25 L208.11,474.06 L208.47,475.72 L208.83,476.80 L209.18,479.33 L209.54,477.91 L209.89,479.95 L210.25,481.54 L210.61,481.44 L210.96,482.81 L211.32,482.03 L211.67,483.50 L212.03,484.37 L212.38,485.98 L212.74,485.00 L213.10,485.97 L213.45,485.01 L213.81,485.38 L214.16,486.89 L214.52,485.84 L214.88,486.42 L215.23,485.62 L215.59,486.73 L215.94,486.81 L216.30,483.76 L216.65,486.03 L217.01,484.59 L217.37,484.48 L217.72,483.80 L218.08,484.41 L218.43,482.62 L218.79,482.82 L219.15,482.65 L219.50,483.46 L219.86,483.90 L220.21,483.60 L220.57,483.14 L220.92,482.15 L221.28,480.97 L221.64,482.80 L221.99,482.45 L222.35,482.52 L222.70,483.37 L223.06,481.81 L223.42,481.69 L223.77,479.68 L224.13,482.16 L224.48,481.52 L224.84,480.80 L225.19,481.72 L225.55,480.34 L225.91,480.70 L226.26,482.87 L226.62,481.70 L226.97,481.78 L227.33,481.54 L227.69,481.38 L228.04,480.91 L228.40,482.73 L228.75,480.54 L229.11,481.22 L229.46,480.31 L229.82,480.14 L230.18,478.22 L230.53,478.65 L230.89,481.75 L231.24,481.67 L231.60,479.93 L231.90,426.00 L231.90,424.99 L232.15,425.07 L232.41,422.90 L232.66,425.10 L232.92,421.95 L233.17,422.20 L233.42,420.08 L233.68,424.29 L233.93,422.76 L234.18,424.26 L234.44,421.56 L234.69,422.83 L234.95,422.50 L235.20,422.56 L235.45,424.36 L235.71,424.48 L235.96,423.53 L236.22,421.68 L236.47,422.90 L236.72,423.28 L236.98,422.42 L237.23,422.37 L237.48,422.21 L237.74,420.76 L237.99,421.83 L238.25,423.12 L238.50,420.45 L238.75,421.46 L239.01,422.14 L239.26,419.87 L239.52,421.03 L239.77,419.40 L240.02,420.42 L240.28,419.55 L240.53,419.99 L240.78,420.33 L241.04,420.47 L241.29,420.47 L241.55,418.20 L241.80,422.12 L242.05,420.19 L242.31,419.30 L242.56,419.69 L242.82,420.56 L243.07,419.18 L243.32,419.70 L243.58,419.57 L243.83,420.51 L244.08,419.15 L244.34,420.29 L244.59,420.11 L244.85,419.54 L245.10,420.86 L245.35,419.57 L245.61,418.31 L245.86,419.71 L246.12,419.47 L246.37,419.23 L246.62,419.44 L246.88,421.49 L247.13,419.30 L247.38,419.45 L247.64,418.68 L247.89,420.17 L248.15,418.73 L248.40,417.92 L248.65,417.43 L248.91,419.11 L249.16,419.25 L249.42,416.85 L249.67,417.65 L249.92,418.94 L250.18,419.26 L250.43,416.84 L250.68,417.68 L250.94,418.85 L251.19,417.42 L251.45,417.43 L251.70,417.27 L251.95,416.43 L252.21,417.72 L252.46,417.91 L252.72,416.13 L252.97,417.56 L253.22,418.50 L253.48,417.53 L253.73,418.20 L253.98,416.63 L254.24,418.48 L254.49,416.26 L254.75,418.86 L255.00,416.45 L255.25,416.12 L255.51,415.87 L255.76,416.28 L256.02,416.13 L256.27,415.87 L256.52,416.16 L256.78,417.08 L257.03,417.23 L257.28,415.94 L257.54,417.44 L257.79,415.14 L258.05,415.04 L258.30,414.87 L258.70,497.60 L259.10,452.30 L259.10,452.84 L259.46,453.67 L259.81,456.34 L260.17,461.06 L260.53,463.57 L260.88,465.18 L261.24,464.40 L261.59,467.37 L261.95,469.59 L262.31,470.29 L262.66,469.98 L263.02,472.27 L263.38,472.09 L263.73,473.46 L264.09,477.37 L264.45,476.84 L264.80,475.63 L265.16,476.27 L265.52,478.64 L265.87,478.24 L266.23,479.81 L266.58,479.18 L266.94,480.00 L267.30,480.79 L267.65,480.00 L268.01,479.53 L268.37,480.48 L268.72,481.20 L269.08,481.89 L269.44,481.85 L269.79,481.65 L270.15,481.98 L270.51,480.52 L270.86,482.39 L271.22,482.75 L271.57,481.10 L271.93,480.76 L272.29,481.53 L272.64,480.82 L273.00,480.23 L273.36,479.74 L273.71,479.06 L274.07,478.51 L274.43,480.00 L274.78,480.31 L275.14,478.13 L275.49,478.86 L275.85,478.97 L276.21,478.25 L276.56,477.80 L276.92,477.99 L277.28,476.43 L277.63,478.01 L277.99,477.67 L278.35,479.71 L278.70,478.52 L279.06,477.24 L279.42,477.43 L279.77,478.86 L280.13,478.65 L280.48,477.26 L280.84,476.87 L281.20,475.59 L281.55,476.49 L281.91,476.54 L282.27,475.94 L282.62,478.07 L282.98,474.75 L283.34,476.24 L283.69,476.65 L284.05,476.61 L284.41,477.67 L284.76,474.83 L285.12,475.37 L285.47,476.08 L285.83,476.07 L286.19,475.57 L286.54,475.21 L286.90,476.85 L287.20,426.00 L287.20,423.93 L287.45,423.85 L287.70,425.30 L287.96,425.03 L288.21,423.83 L288.46,422.04 L288.71,421.99 L288.97,421.89 L289.22,421.59 L289.47,422.25 L289.72,423.88 L289.98,422.78 L290.23,421.74 L290.48,421.66 L290.73,421.21 L290.99,423.53 L291.24,420.25 L291.49,422.48 L291.74,420.71 L292.00,421.03 L292.25,420.54 L292.50,422.94 L292.75,421.84 L293.01,424.60 L293.26,420.76 L293.51,420.65 L293.76,422.27 L294.02,422.19 L294.27,421.29 L294.52,419.49 L294.77,422.90 L295.03,421.96 L295.28,421.73 L295.53,420.68 L295.78,421.86 L296.03,420.60 L296.29,421.14 L296.54,420.85 L296.79,422.24 L297.04,420.45 L297.30,420.52 L297.55,421.91 L297.80,420.98 L298.05,420.67 L298.31,420.39 L298.56,421.53 L298.81,419.87 L299.06,420.93 L299.32,422.43 L299.57,420.74 L299.82,419.50 L300.07,419.02 L300.33,420.31 L300.58,418.88 L300.83,418.46 L301.08,419.23 L301.34,418.84 L301.59,420.75 L301.84,418.37 L302.09,421.34 L302.35,418.95 L302.60,419.76 L302.85,420.26 L303.10,419.75 L303.36,420.19 L303.61,418.42 L303.86,417.08 L304.11,419.09 L304.37,417.55 L304.62,418.60 L304.87,420.06 L305.12,418.86 L305.37,418.41 L305.63,417.81 L305.88,418.59 L306.13,418.65 L306.38,417.19 L306.64,419.01 L306.89,417.58 L307.14,418.81 L307.39,418.09 L307.65,419.47 L307.90,419.28 L308.15,418.37 L308.40,418.20 L308.66,418.69 L308.91,419.58 L309.16,419.21 L309.41,418.25 L309.67,418.35 L309.92,419.56 L310.17,416.29 L310.42,418.42 L310.68,416.92 L310.93,419.12 L311.18,417.21 L311.43,417.54 L311.69,416.51 L311.94,417.56 L312.19,418.29 L312.44,419.11 L312.70,416.12 L312.95,416.89 L313.20,421.19 L313.60,498.00 L314.00,453.30 L314.00,454.13 L314.37,455.26 L314.74,457.57 L315.11,456.40 L315.48,461.84 L315.84,461.99 L316.21,461.91 L316.58,465.51 L316.95,465.06 L317.32,465.78 L317.69,468.18 L318.06,469.00 L318.43,469.08 L318.80,470.23 L319.17,469.82 L319.53,470.41 L319.90,473.16 L320.27,474.13 L320.64,473.87 L321.01,474.33 L321.38,474.10 L321.75,474.78 L322.12,474.45 L322.49,477.25 L322.86,475.50 L323.22,476.70 L323.59,476.63 L323.96,475.65 L324.33,478.91 L324.70,477.06" fill="none" stroke="#0000ff" stroke-width="1.9" stroke-linejoin="round"/>
<path d="M51.20,473.89 L51.46,475.85 L51.71,473.84 L51.97,475.90 L52.22,473.94 L52.48,477.25 L52.73,476.29 L52.99,473.42 L53.24,478.58 L53.50,476.92 L53.75,474.31 L54.01,477.50 L54.26,477.76 L54.52,480.88 L54.77,475.27 L55.03,479.00 L55.28,477.12 L55.54,478.73 L55.79,476.99 L56.05,477.54 L56.30,478.82 L56.56,475.38 L56.81,473.57 L57.07,478.09 L57.32,477.29 L57.58,478.52 L57.83,479.80 L58.09,478.11 L58.34,481.20 L58.60,478.71 L58.86,479.15 L59.11,480.78 L59.37,480.38 L59.62,479.08 L59.88,479.64 L60.13,477.90 L60.39,478.31 L60.64,479.93 L60.90,481.55 L61.15,479.03 L61.41,481.83 L61.66,484.26 L61.92,484.81 L62.17,480.46 L62.43,482.74 L62.68,481.92 L62.94,482.41 L63.19,482.63 L63.45,482.08 L63.70,482.84 L63.96,481.62 L64.21,480.78 L64.47,481.97 L64.72,482.59 L64.98,484.24 L65.23,482.56 L65.49,483.46 L65.74,485.00 L66.00,480.15 L66.20,480.15 L66.50,369.69 L66.60,369.69 L66.85,370.55 L67.10,369.43 L67.36,367.53 L67.61,370.19 L67.86,368.68 L68.11,367.61 L68.37,372.28 L68.62,367.82 L68.87,370.05 L69.12,369.39 L69.38,370.88 L69.63,371.89 L69.88,370.13 L70.13,371.52 L70.39,371.81 L70.64,370.82 L70.89,374.40 L71.14,373.23 L71.40,372.85 L71.65,372.61 L71.90,373.43 L72.15,374.47 L72.40,373.87 L72.66,376.38 L72.91,370.62 L73.16,371.16 L73.41,373.94 L73.67,371.49 L73.92,374.10 L74.17,373.15 L74.42,374.95 L74.68,374.64 L74.93,375.92 L75.18,375.28 L75.43,375.72 L75.69,374.57 L75.94,375.32 L76.19,374.40 L76.44,372.70 L76.50,362.00 L76.90,378.50 L76.70,371.65 L76.95,371.65 L77.20,374.13 L77.45,369.76 L77.70,373.55 L77.96,372.09 L78.21,374.27 L78.46,373.40 L78.71,371.91 L78.97,373.00 L79.22,369.50 L79.47,373.26 L79.72,373.50 L79.98,369.97 L80.23,373.96 L80.48,372.43 L80.73,372.81 L80.99,370.36 L81.24,373.34 L81.49,373.25 L81.74,372.29 L82.00,370.77 L82.25,373.34 L82.50,374.01 L82.75,372.67 L83.00,373.52 L83.26,371.08 L83.51,372.13 L83.76,372.41 L84.01,372.00 L84.27,375.96 L84.52,372.30 L84.77,370.77 L85.02,372.77 L85.28,369.81 L85.53,371.91 L85.78,372.43 L86.03,370.45 L86.29,370.62 L86.54,369.61 L86.79,371.13 L87.04,369.83 L87.30,373.37 L87.55,371.65 L87.80,370.26 L88.05,368.38 L88.30,373.48 L88.56,372.29 L88.81,370.96 L89.06,370.46 L89.31,370.33 L89.57,369.29 L89.82,372.73 L90.07,370.12 L90.32,367.57 L90.58,368.65 L90.83,365.67 L91.08,370.45 L91.33,370.52 L91.59,371.94 L91.84,372.35 L92.09,367.93 L92.34,369.69 L92.60,370.43 L92.85,370.03 L93.10,367.99 L93.70,466.10 L93.70,466.46 L93.95,466.70 L94.21,468.74 L94.46,467.33 L94.71,467.59 L94.97,467.57 L95.22,468.09 L95.48,467.82 L95.73,468.76 L95.98,470.31 L96.24,470.53 L96.49,472.09 L96.74,472.01 L97.00,471.56 L97.25,469.14 L97.51,471.96 L97.76,473.08 L98.01,469.59 L98.27,470.09 L98.52,470.54 L98.77,470.61 L99.03,471.92 L99.28,471.14 L99.54,473.30 L99.79,471.08 L100.04,472.87 L100.30,472.48 L100.55,471.93 L100.80,475.10 L101.06,473.74 L101.31,474.66 L101.56,473.49 L101.82,475.19 L102.07,475.20 L102.33,474.18 L102.58,471.89 L102.83,475.91 L103.09,475.85 L103.34,475.22 L103.59,475.44 L103.85,475.39 L104.10,475.62 L104.36,473.95 L104.61,475.50 L104.86,476.19 L105.12,474.93 L105.37,474.52 L105.62,478.90 L105.88,477.15 L106.13,475.92 L106.39,475.77 L106.64,472.69 L106.89,474.66 L107.15,476.57 L107.40,479.02 L107.65,474.16 L107.91,476.34 L108.16,480.41 L108.41,478.70 L108.67,478.46 L108.92,479.78 L109.18,477.96 L109.43,478.02 L109.68,479.50 L109.94,479.85 L110.19,477.12 L110.44,481.15 L110.70,476.39 L110.95,478.10 L111.21,483.90 L111.46,478.66 L111.71,480.55 L111.97,478.21 L112.22,479.37 L112.47,478.90 L112.73,479.52 L112.98,481.24 L113.24,483.02 L113.49,481.84 L113.74,483.00 L114.00,480.03 L114.25,483.12 L114.50,481.90 L114.76,483.24 L115.01,480.68 L115.26,481.09 L115.52,483.61 L115.77,482.60 L116.03,481.97 L116.28,480.91 L116.53,481.90 L116.79,482.90 L117.04,483.37 L117.29,481.58 L117.55,482.01 L117.80,483.28 L118.06,481.09 L118.31,484.27 L118.56,482.96 L118.82,482.87 L119.07,479.56 L119.32,480.89 L119.58,481.83 L119.83,482.61 L120.09,481.95 L120.34,484.25 L120.59,484.00 L120.85,483.50 L121.10,480.95 L121.40,495.20 L121.40,495.20 L121.70,380.10 L121.80,380.10 L122.05,377.53 L122.31,378.79 L122.56,376.85 L122.82,377.80 L123.07,378.80 L123.33,378.06 L123.58,379.10 L123.84,377.34 L124.09,380.55 L124.35,374.67 L124.60,376.64 L124.86,378.88 L125.11,376.99 L125.37,376.65 L125.62,374.61 L125.88,379.02 L126.13,374.32 L126.39,377.88 L126.64,377.36 L126.90,378.33 L127.15,379.16 L127.41,375.87 L127.66,375.66 L127.92,376.35 L128.17,374.20 L128.43,377.95 L128.68,376.08 L128.93,376.86 L129.19,374.88 L129.44,376.54 L129.70,375.54 L129.95,376.31 L130.21,374.73 L130.46,377.86 L130.72,375.29 L130.97,372.39 L131.23,377.14 L131.48,375.67 L131.74,374.74 L131.99,379.78 L132.25,375.89 L132.50,373.91 L132.76,374.95 L133.01,376.39 L133.27,375.43 L133.52,377.59 L133.78,377.27 L134.03,374.44 L134.29,375.64 L134.54,376.49 L134.80,374.87 L135.05,374.74 L135.30,376.71 L135.56,376.02 L135.81,373.19 L136.07,374.42 L136.32,374.58 L136.58,374.97 L136.83,374.02 L137.09,377.07 L137.34,373.55 L137.60,373.33 L137.85,375.22 L138.11,371.48 L138.36,373.27 L138.62,375.70 L138.87,372.73 L139.13,373.40 L139.38,376.25 L139.64,375.26 L139.89,374.62 L140.15,374.85 L140.40,373.42 L140.66,374.85 L140.91,374.04 L141.17,378.05 L141.42,375.06 L141.67,373.70 L141.93,374.08 L142.18,374.19 L142.44,371.99 L142.69,372.78 L142.95,376.26 L143.20,371.82 L143.46,373.00 L143.71,375.36 L143.97,376.05 L144.22,372.20 L144.48,375.88 L144.73,373.10 L144.99,376.08 L145.24,374.30 L145.50,373.08 L145.75,374.55 L146.01,374.25 L146.26,372.20 L146.52,376.54 L146.77,372.75 L147.03,374.95 L147.28,372.44 L147.54,370.38 L147.79,371.39 L148.05,372.88 L148.30,374.00 L148.90,463.00 L148.90,464.62 L149.15,462.81 L149.41,463.00 L149.66,462.27 L149.91,464.61 L150.17,465.52 L150.42,462.06 L150.68,467.64 L150.93,467.69 L151.18,469.68 L151.44,465.17 L151.69,466.86 L151.94,467.08 L152.20,465.31 L152.45,466.27 L152.71,466.29 L152.96,468.77 L153.21,468.86 L153.47,470.44 L153.72,468.01 L153.97,466.71 L154.23,469.65 L154.48,469.73 L154.74,470.35 L154.99,471.39 L155.24,468.81 L155.50,471.04 L155.75,468.49 L156.00,470.38 L156.26,471.33 L156.51,470.27 L156.76,470.91 L157.02,468.62 L157.27,469.87 L157.53,471.20 L157.78,469.30 L158.03,469.95 L158.29,475.01 L158.54,471.87 L158.79,470.36 L159.05,470.17 L159.30,473.91 L159.56,467.74 L159.81,471.52 L160.06,473.07 L160.32,471.39 L160.57,473.14 L160.82,470.89 L161.08,472.57 L161.33,472.78 L161.59,472.86 L161.84,473.19 L162.09,473.16 L162.35,474.93 L162.60,472.99 L162.85,472.64 L163.11,473.25 L163.36,473.36 L163.61,471.67 L163.87,471.23 L164.12,472.20 L164.38,474.80 L164.63,473.51 L164.88,474.04 L165.14,479.10 L165.39,476.62 L165.64,474.75 L165.90,474.26 L166.15,477.41 L166.41,474.31 L166.66,477.47 L166.91,476.63 L167.17,477.96 L167.42,474.93 L167.67,477.50 L167.93,473.56 L168.18,476.15 L168.44,478.16 L168.69,477.71 L168.94,474.04 L169.20,477.95 L169.45,477.73 L169.70,477.07 L169.96,476.21 L170.21,476.99 L170.46,476.67 L170.72,479.08 L170.97,478.48 L171.23,479.50 L171.48,479.05 L171.73,476.21 L171.99,478.46 L172.24,481.59 L172.49,476.82 L172.75,479.02 L173.00,477.54 L173.26,477.49 L173.51,479.25 L173.76,480.42 L174.02,480.31 L174.27,479.96 L174.52,480.80 L174.78,477.03 L175.03,480.81 L175.29,480.29 L175.54,479.51 L175.79,479.87 L176.05,478.71 L176.30,481.83 L176.60,482.60 L176.60,482.60 L176.90,373.65 L177.00,373.65 L177.25,372.51 L177.51,374.65 L177.76,373.73 L178.02,374.43 L178.27,376.75 L178.52,374.21 L178.78,374.54 L179.03,377.70 L179.28,372.13 L179.54,374.73 L179.79,375.87 L180.05,376.33 L180.30,377.37 L180.55,372.94 L180.81,374.79 L181.06,373.67 L181.32,373.07 L181.57,372.60 L181.82,371.43 L182.08,374.07 L182.33,374.64 L182.58,371.85 L182.84,374.53 L183.09,372.49 L183.35,371.74 L183.60,369.25 L183.85,374.81 L184.11,374.16 L184.36,372.55 L184.62,372.38 L184.87,370.94 L185.12,373.62 L185.38,372.68 L185.63,373.53 L185.88,372.93 L186.14,370.47 L186.39,370.19 L186.65,373.11 L186.90,369.87 L187.15,372.77 L187.41,373.67 L187.66,370.31 L187.92,373.21 L188.17,372.20 L188.42,372.89 L188.68,371.07 L188.93,371.94 L189.18,372.56 L189.44,374.62 L189.69,372.91 L189.95,372.50 L190.20,369.73 L190.45,372.13 L190.71,370.54 L190.96,371.41 L191.22,371.86 L191.47,372.87 L191.72,372.24 L191.98,371.57 L192.23,371.14 L192.48,373.22 L192.74,369.77 L192.99,371.11 L193.25,373.07 L193.50,370.64 L193.75,372.12 L194.01,372.16 L194.26,373.74 L194.52,372.40 L194.77,368.13 L195.02,370.56 L195.28,370.94 L195.53,371.69 L195.78,370.96 L196.04,373.16 L196.29,371.91 L196.55,368.39 L196.80,369.15 L197.05,366.92 L197.31,372.59 L197.56,369.71 L197.82,369.61 L198.07,367.37 L198.32,369.02 L198.58,370.26 L198.83,368.92 L199.08,368.87 L199.34,368.45 L199.59,372.32 L199.85,368.42 L200.10,366.98 L200.35,368.32 L200.61,368.51 L200.86,368.82 L201.12,368.53 L201.37,367.13 L201.62,368.46 L201.88,369.28 L202.13,366.50 L202.38,371.57 L202.64,371.08 L202.89,365.68 L203.15,367.81 L203.40,369.85 L204.00,458.70 L204.00,459.45 L204.25,460.83 L204.51,456.04 L204.76,457.84 L205.01,459.32 L205.26,461.33 L205.52,459.19 L205.77,461.80 L206.02,462.14 L206.28,462.85 L206.53,460.08 L206.78,462.62 L207.03,462.71 L207.29,462.22 L207.54,465.10 L207.79,462.91 L208.04,465.81 L208.30,462.92 L208.55,466.65 L208.80,466.78 L209.06,463.23 L209.31,465.20 L209.56,465.36 L209.81,463.58 L210.07,466.46 L210.32,466.35 L210.57,464.29 L210.82,465.93 L211.08,467.31 L211.33,465.87 L211.58,465.18 L211.84,468.92 L212.09,465.08 L212.34,467.24 L212.59,468.58 L212.85,468.21 L213.10,464.35 L213.35,466.79 L213.61,467.23 L213.86,467.24 L214.11,468.66 L214.36,468.67 L214.62,468.18 L214.87,468.52 L215.12,469.79 L215.38,470.29 L215.63,465.64 L215.88,471.99 L216.13,467.96 L216.39,470.13 L216.64,466.61 L216.89,468.45 L217.14,467.46 L217.40,471.18 L217.65,471.03 L217.90,469.85 L218.16,469.73 L218.41,470.73 L218.66,468.87 L218.91,469.52 L219.17,469.43 L219.42,472.00 L219.67,470.94 L219.92,469.10 L220.18,471.72 L220.43,472.14 L220.68,473.60 L220.94,470.78 L221.19,472.39 L221.44,475.09 L221.69,471.56 L221.95,471.65 L222.20,473.11 L222.45,471.72 L222.71,472.62 L222.96,471.99 L223.21,471.70 L223.46,474.36 L223.72,472.59 L223.97,471.76 L224.22,472.99 L224.47,473.34 L224.73,474.15 L224.98,475.24 L225.23,476.64 L225.49,472.21 L225.74,473.83 L225.99,471.56 L226.24,474.79 L226.50,475.37 L226.75,473.70 L227.00,473.42 L227.26,473.42 L227.51,472.77 L227.76,476.12 L228.01,478.18 L228.27,473.66 L228.52,477.99 L228.77,475.45 L229.02,473.62 L229.28,476.70 L229.53,477.10 L229.78,476.66 L230.04,475.77 L230.29,478.81 L230.54,475.95 L230.79,477.45 L231.05,477.58 L231.30,475.33 L231.60,490.40 L231.60,490.40 L231.90,368.78 L232.00,368.78 L232.25,368.86 L232.51,370.79 L232.76,371.83 L233.01,368.49 L233.26,370.00 L233.52,373.33 L233.77,368.17 L234.02,371.50 L234.28,371.24 L234.53,371.80 L234.78,368.27 L235.03,370.92 L235.29,368.20 L235.54,372.24 L235.79,368.80 L236.05,370.60 L236.30,368.70 L236.55,370.03 L236.80,367.39 L237.06,370.06 L237.31,370.45 L237.56,369.42 L237.82,371.80 L238.07,369.80 L238.32,370.34 L238.57,369.82 L238.83,371.81 L239.08,367.86 L239.33,368.35 L239.59,368.34 L239.84,369.52 L240.09,368.88 L240.35,369.66 L240.60,368.74 L240.85,367.41 L241.10,368.01 L241.36,368.68 L241.61,364.43 L241.86,369.94 L242.12,366.87 L242.37,367.10 L242.62,367.94 L242.87,367.07 L243.13,365.14 L243.38,366.92 L243.63,369.29 L243.89,368.68 L244.14,368.87 L244.39,366.05 L244.64,366.47 L244.90,368.32 L245.15,368.89 L245.40,366.58 L245.66,364.96 L245.91,363.39 L246.16,368.42 L246.41,363.83 L246.67,366.72 L246.92,367.34 L247.17,370.87 L247.43,366.08 L247.68,365.52 L247.93,366.31 L248.18,366.30 L248.44,367.48 L248.69,366.39 L248.94,364.06 L249.20,361.90 L249.45,365.51 L249.70,363.91 L249.95,367.03 L250.21,362.74 L250.46,364.98 L250.71,363.45 L250.97,363.13 L251.22,366.96 L251.47,364.55 L251.73,363.92 L251.98,365.24 L252.23,362.79 L252.48,363.34 L252.74,362.83 L252.99,366.78 L253.24,364.13 L253.50,364.50 L253.75,365.16 L254.00,363.05 L254.25,363.00 L254.51,360.61 L254.76,363.79 L255.01,363.35 L255.27,362.21 L255.52,364.62 L255.77,359.89 L256.02,363.21 L256.28,360.33 L256.53,360.59 L256.78,361.94 L257.04,364.24 L257.29,360.23 L257.54,360.43 L257.79,360.01 L258.05,364.91 L258.30,362.51 L258.90,455.30 L258.90,454.92 L259.15,458.22 L259.41,456.14 L259.66,453.18 L259.92,456.23 L260.17,455.51 L260.42,460.81 L260.68,455.74 L260.93,458.68 L261.19,457.67 L261.44,458.03 L261.70,458.99 L261.95,458.98 L262.20,458.35 L262.46,457.70 L262.71,458.82 L262.97,458.41 L263.22,458.81 L263.47,460.59 L263.73,460.35 L263.98,461.50 L264.24,460.55 L264.49,464.08 L264.74,460.10 L265.00,459.83 L265.25,463.13 L265.51,460.57 L265.76,462.00 L266.02,463.46 L266.27,461.91 L266.52,461.63 L266.78,463.81 L267.03,462.94 L267.29,461.71 L267.54,460.78 L267.79,462.17 L268.05,460.28 L268.30,461.61 L268.56,461.37 L268.81,463.64 L269.07,464.47 L269.32,462.37 L269.57,462.80 L269.83,461.87 L270.08,461.54 L270.34,463.12 L270.59,464.78 L270.84,464.74 L271.10,465.03 L271.35,463.80 L271.61,460.08 L271.86,465.90 L272.11,466.63 L272.37,466.12 L272.62,466.23 L272.88,466.66 L273.13,469.26 L273.39,465.72 L273.64,467.77 L273.89,466.74 L274.15,466.66 L274.40,465.52 L274.66,465.32 L274.91,464.22 L275.16,467.02 L275.42,465.74 L275.67,464.48 L275.93,465.28 L276.18,464.74 L276.43,469.20 L276.69,466.45 L276.94,467.11 L277.20,465.18 L277.45,465.57 L277.71,468.93 L277.96,467.05 L278.21,467.88 L278.47,470.51 L278.72,471.02 L278.98,468.95 L279.23,468.75 L279.48,468.47 L279.74,467.77 L279.99,471.48 L280.25,466.54 L280.50,468.40 L280.76,465.65 L281.01,466.78 L281.26,469.49 L281.52,469.68 L281.77,469.60 L282.03,468.67 L282.28,468.18 L282.53,468.54 L282.79,468.89 L283.04,471.29 L283.30,471.96 L283.55,470.47 L283.80,469.04 L284.06,468.52 L284.31,470.55 L284.57,469.81 L284.82,467.42 L285.08,472.50 L285.33,470.44 L285.58,470.05 L285.84,469.28 L286.09,469.36 L286.35,472.21 L286.60,469.43 L286.90,472.00 L286.90,472.00 L287.20,364.35 L287.30,364.35 L287.55,365.09 L287.81,366.87 L288.06,364.84 L288.32,363.75 L288.57,363.01 L288.82,364.93 L289.08,365.07 L289.33,362.74 L289.59,364.22 L289.84,362.98 L290.09,360.57 L290.35,361.43 L290.60,364.16 L290.85,365.05 L291.11,363.76 L291.36,362.28 L291.62,361.38 L291.87,363.24 L292.12,362.82 L292.38,359.68 L292.63,363.12 L292.89,360.90 L293.14,362.95 L293.39,362.64 L293.65,362.83 L293.90,363.27 L294.16,362.60 L294.41,359.76 L294.66,359.71 L294.92,362.82 L295.17,361.85 L295.43,358.55 L295.68,357.77 L295.93,362.20 L296.19,364.17 L296.44,361.89 L296.70,360.13 L296.95,360.82 L297.20,356.06 L297.46,358.65 L297.71,361.68 L297.96,361.35 L298.22,356.59 L298.47,361.65 L298.73,360.54 L298.98,361.07 L299.23,359.19 L299.49,359.41 L299.74,357.62 L300.00,359.71 L300.25,360.50 L300.50,357.54 L300.76,359.48 L301.01,357.98 L301.27,360.33 L301.52,360.13 L301.77,354.82 L302.03,359.11 L302.28,359.89 L302.54,357.33 L302.79,357.77 L303.04,357.77 L303.30,356.12 L303.55,357.62 L303.80,360.13 L304.06,358.35 L304.31,359.88 L304.57,358.95 L304.82,359.18 L305.07,357.40 L305.33,358.31 L305.58,360.15 L305.84,359.20 L306.09,357.31 L306.34,355.62 L306.60,355.17 L306.85,356.88 L307.11,357.09 L307.36,353.44 L307.61,356.55 L307.87,356.65 L308.12,356.48 L308.38,355.05 L308.63,359.40 L308.88,357.07 L309.14,353.47 L309.39,354.39 L309.65,356.65 L309.90,356.10 L310.15,355.40 L310.41,355.05 L310.66,354.66 L310.91,354.19 L311.17,353.19 L311.42,355.58 L311.68,350.25 L311.93,353.34 L312.18,356.30 L312.44,353.05 L312.69,352.31 L312.95,357.01 L313.20,355.58 L313.80,445.70 L313.80,444.42 L314.06,444.43 L314.32,445.66 L314.58,446.13 L314.83,446.90 L315.09,446.69 L315.35,449.22 L315.61,448.03 L315.87,446.59 L316.13,447.89 L316.39,450.39 L316.64,449.28 L316.90,447.48 L317.16,454.11 L317.42,452.98 L317.68,451.89 L317.94,452.23 L318.20,454.23 L318.45,455.95 L318.71,453.22 L318.97,455.18 L319.23,453.91 L319.49,455.72 L319.75,453.78 L320.00,453.03 L320.26,456.33 L320.52,456.42 L320.78,457.95 L321.04,456.09 L321.30,459.56 L321.56,457.86 L321.81,460.40 L322.07,457.74 L322.33,460.88 L322.59,458.69 L322.85,459.26 L323.11,460.77 L323.37,456.75 L323.62,458.06 L323.88,462.77 L324.14,457.77 L324.40,459.52" fill="none" stroke="#ff0000" stroke-width="1.9" stroke-linejoin="round"/>
<text x="43.5" y="490.30" font-size="18.8" text-anchor="end" font-weight="normal" fill="#000" letter-spacing="0.1" >0</text>
<text x="43.5" y="431.56" font-size="18.8" text-anchor="end" font-weight="normal" fill="#000" letter-spacing="0.1" >2</text>
<text x="43.5" y="372.82" font-size="18.8" text-anchor="end" font-weight="normal" fill="#000" letter-spacing="0.1" >4</text>
<text x="43.5" y="314.08" font-size="18.8" text-anchor="end" font-weight="normal" fill="#000" letter-spacing="0.1" >6</text>
<text x="51.20" y="536.0" font-size="18.8" text-anchor="middle" font-weight="normal" fill="#000" letter-spacing="0.1" >0</text>
<text x="119.58" y="536.0" font-size="18.8" text-anchor="middle" font-weight="normal" fill="#000" letter-spacing="0.1" >50</text>
<text x="187.95" y="536.0" font-size="18.8" text-anchor="middle" font-weight="normal" fill="#000" letter-spacing="0.1" >100</text>
<text x="256.32" y="536.0" font-size="18.8" text-anchor="middle" font-weight="normal" fill="#000" letter-spacing="0.1" >150</text>
<text x="324.70" y="536.0" font-size="18.8" text-anchor="middle" font-weight="normal" fill="#000" letter-spacing="0.1" >200</text>
<text x="185.3" y="557.7" font-size="18.5" text-anchor="middle" font-weight="normal" fill="#000" letter-spacing="0.1" >Time (s)</text>
<text transform="translate(18.6,470.6) rotate(-90)" font-size="18.5" letter-spacing="0.28">Current (mA cm<tspan font-size="11.5" dy="-8">-2</tspan><tspan dy="8">)</tspan></text>
<text x="56.3" y="314.0" font-size="21.5" text-anchor="start" font-weight="normal" fill="#000" letter-spacing="0" >c)</text>
<line x1="80.1" y1="310.1" x2="107.8" y2="310.1" stroke="#0000ff" stroke-width="1.9"/>
<text x="112.2" y="314.1" font-size="12.7" text-anchor="start" font-weight="bold" fill="#0000ff" letter-spacing="0.1" >BTH-1</text>
<line x1="80.1" y1="326.8" x2="107.8" y2="326.8" stroke="#ee8833" stroke-width="1.9"/>
<text x="112.2" y="330.8" font-size="12.7" text-anchor="start" font-weight="bold" fill="#ee8833" letter-spacing="0.1" >BTH-2</text>
<line x1="80.1" y1="344.3" x2="107.8" y2="344.3" stroke="#ff0000" stroke-width="1.9"/>
<text x="112.2" y="348.3" font-size="12.7" text-anchor="start" font-weight="bold" fill="#ff0000" letter-spacing="0.1" >BTH-3</text>
<rect x="410.4" y="293.4" width="273.40" height="220.40" fill="none" stroke="#000" stroke-width="1.7"/>
<line x1="405.80" y1="507.70" x2="410.40" y2="507.70" stroke="#000" stroke-width="1.7"/>
<line x1="408.10" y1="477.09" x2="410.40" y2="477.09" stroke="#000" stroke-width="1.7"/>
<line x1="405.80" y1="446.48" x2="410.40" y2="446.48" stroke="#000" stroke-width="1.7"/>
<line x1="408.10" y1="415.87" x2="410.40" y2="415.87" stroke="#000" stroke-width="1.7"/>
<line x1="405.80" y1="385.26" x2="410.40" y2="385.26" stroke="#000" stroke-width="1.7"/>
<line x1="408.10" y1="354.65" x2="410.40" y2="354.65" stroke="#000" stroke-width="1.7"/>
<line x1="405.80" y1="324.04" x2="410.40" y2="324.04" stroke="#000" stroke-width="1.7"/>
<line x1="408.10" y1="293.43" x2="410.40" y2="293.43" stroke="#000" stroke-width="1.7"/>
<line x1="410.50" y1="513.80" x2="410.50" y2="518.40" stroke="#000" stroke-width="1.7"/>
<line x1="449.02" y1="513.80" x2="449.02" y2="516.10" stroke="#000" stroke-width="1.7"/>
<line x1="487.54" y1="513.80" x2="487.54" y2="518.40" stroke="#000" stroke-width="1.7"/>
<line x1="526.06" y1="513.80" x2="526.06" y2="516.10" stroke="#000" stroke-width="1.7"/>
<line x1="564.58" y1="513.80" x2="564.58" y2="518.40" stroke="#000" stroke-width="1.7"/>
<line x1="603.10" y1="513.80" x2="603.10" y2="516.10" stroke="#000" stroke-width="1.7"/>
<line x1="641.62" y1="513.80" x2="641.62" y2="518.40" stroke="#000" stroke-width="1.7"/>
<line x1="680.14" y1="513.80" x2="680.14" y2="516.10" stroke="#000" stroke-width="1.7"/>
<polyline points="410.50,507.70 411.50,503.00 412.50,498.50 413.50,494.00 414.60,489.00 415.80,484.00 417.20,478.50 418.80,472.50 420.60,466.00 422.70,459.00 425.10,451.50 427.90,443.50 431.10,436.00 436.00,423.30 441.50,411.20 449.20,397.90 458.50,385.30 470.70,373.50 485.30,362.50 500.80,354.30 518.90,349.90 537.50,349.30 555.50,354.10 573.00,362.30 588.20,374.60 602.30,388.80 614.10,406.00" fill="none" stroke="#0000ff" stroke-width="1.9" stroke-linejoin="round"/>
<rect x="406.60" y="503.80" width="7.8" height="7.8" fill="#0000ff"/>
<rect x="407.60" y="499.10" width="7.8" height="7.8" fill="#0000ff"/>
<rect x="408.60" y="494.60" width="7.8" height="7.8" fill="#0000ff"/>
<rect x="409.60" y="490.10" width="7.8" height="7.8" fill="#0000ff"/>
<rect x="410.70" y="485.10" width="7.8" height="7.8" fill="#0000ff"/>
<rect x="411.90" y="480.10" width="7.8" height="7.8" fill="#0000ff"/>
<rect x="413.30" y="474.60" width="7.8" height="7.8" fill="#0000ff"/>
<rect x="414.90" y="468.60" width="7.8" height="7.8" fill="#0000ff"/>
<rect x="416.70" y="462.10" width="7.8" height="7.8" fill="#0000ff"/>
<rect x="418.80" y="455.10" width="7.8" height="7.8" fill="#0000ff"/>
<rect x="421.20" y="447.60" width="7.8" height="7.8" fill="#0000ff"/>
<rect x="424.00" y="439.60" width="7.8" height="7.8" fill="#0000ff"/>
<rect x="427.20" y="432.10" width="7.8" height="7.8" fill="#0000ff"/>
<rect x="432.10" y="419.40" width="7.8" height="7.8" fill="#0000ff"/>
<rect x="437.60" y="407.30" width="7.8" height="7.8" fill="#0000ff"/>
<rect x="445.30" y="394.00" width="7.8" height="7.8" fill="#0000ff"/>
<rect x="454.60" y="381.40" width="7.8" height="7.8" fill="#0000ff"/>
<rect x="466.80" y="369.60" width="7.8" height="7.8" fill="#0000ff"/>
<rect x="481.40" y="358.60" width="7.8" height="7.8" fill="#0000ff"/>
<rect x="496.90" y="350.40" width="7.8" height="7.8" fill="#0000ff"/>
<rect x="515.00" y="346.00" width="7.8" height="7.8" fill="#0000ff"/>
<rect x="533.60" y="345.40" width="7.8" height="7.8" fill="#0000ff"/>
<rect x="551.60" y="350.20" width="7.8" height="7.8" fill="#0000ff"/>
<rect x="569.10" y="358.40" width="7.8" height="7.8" fill="#0000ff"/>
<rect x="584.30" y="370.70" width="7.8" height="7.8" fill="#0000ff"/>
<rect x="598.40" y="384.90" width="7.8" height="7.8" fill="#0000ff"/>
<rect x="610.20" y="402.10" width="7.8" height="7.8" fill="#0000ff"/>
<polyline points="410.50,507.70 411.50,504.50 412.50,501.00 413.50,497.50 414.60,493.70 415.80,489.50 416.90,485.20 418.10,480.50 419.40,475.50 420.80,470.50 422.50,465.50 425.00,457.40 428.00,448.50 432.70,438.60 438.20,428.60 444.80,418.00 453.20,408.50 463.00,399.20 474.70,391.70 487.30,386.80 501.20,384.60 515.20,385.30 529.30,388.40 542.20,394.30 555.00,402.40 565.80,411.10 576.10,420.40 585.90,429.10 594.60,437.60" fill="none" stroke="#ff0000" stroke-width="1.4" stroke-linejoin="round"/>
<circle cx="410.50" cy="507.70" r="4.3" fill="#ff0000"/>
<circle cx="411.50" cy="504.50" r="4.3" fill="#ff0000"/>
<circle cx="412.50" cy="501.00" r="4.3" fill="#ff0000"/>
<circle cx="413.50" cy="497.50" r="4.3" fill="#ff0000"/>
<circle cx="414.60" cy="493.70" r="4.3" fill="#ff0000"/>
<circle cx="415.80" cy="489.50" r="4.3" fill="#ff0000"/>
<circle cx="416.90" cy="485.20" r="4.3" fill="#ff0000"/>
<circle cx="418.10" cy="480.50" r="4.3" fill="#ff0000"/>
<circle cx="419.40" cy="475.50" r="4.3" fill="#ff0000"/>
<circle cx="420.80" cy="470.50" r="4.3" fill="#ff0000"/>
<circle cx="422.50" cy="465.50" r="4.3" fill="#ff0000"/>
<circle cx="425.00" cy="457.40" r="4.3" fill="#ff0000"/>
<circle cx="428.00" cy="448.50" r="4.3" fill="#ff0000"/>
<circle cx="432.70" cy="438.60" r="4.3" fill="#ff0000"/>
<circle cx="438.20" cy="428.60" r="4.3" fill="#ff0000"/>
<circle cx="444.80" cy="418.00" r="4.3" fill="#ff0000"/>
<circle cx="453.20" cy="408.50" r="4.3" fill="#ff0000"/>
<circle cx="463.00" cy="399.20" r="4.3" fill="#ff0000"/>
<circle cx="474.70" cy="391.70" r="4.3" fill="#ff0000"/>
<circle cx="487.30" cy="386.80" r="4.3" fill="#ff0000"/>
<circle cx="501.20" cy="384.60" r="4.3" fill="#ff0000"/>
<circle cx="515.20" cy="385.30" r="4.3" fill="#ff0000"/>
<circle cx="529.30" cy="388.40" r="4.3" fill="#ff0000"/>
<circle cx="542.20" cy="394.30" r="4.3" fill="#ff0000"/>
<circle cx="555.00" cy="402.40" r="4.3" fill="#ff0000"/>
<circle cx="565.80" cy="411.10" r="4.3" fill="#ff0000"/>
<circle cx="576.10" cy="420.40" r="4.3" fill="#ff0000"/>
<circle cx="585.90" cy="429.10" r="4.3" fill="#ff0000"/>
<circle cx="594.60" cy="437.60" r="4.3" fill="#ff0000"/>
<polyline points="410.80,508.00 411.40,505.00 412.10,501.50 412.90,497.50 413.70,493.50 414.50,489.50 415.30,485.50 416.10,481.50 416.90,477.50 417.80,473.50 418.80,469.00 419.90,464.00 421.30,458.00 422.90,451.50 425.30,442.00 428.40,430.00 432.70,417.80 440.00,402.50 448.10,388.00 457.40,372.50 469.60,357.70 484.60,342.60 502.30,329.40 522.50,319.70 543.30,313.80 565.30,313.00 587.70,316.30 609.00,323.30 628.80,334.30 647.50,347.70 666.00,363.60" fill="none" stroke="#ee8833" stroke-width="2.0" stroke-linejoin="round"/>
<polygon points="405.60,511.10 416.00,511.10 410.80,502.00" fill="#ee8833"/>
<polygon points="406.20,508.10 416.60,508.10 411.40,499.00" fill="#ee8833"/>
<polygon points="406.90,504.60 417.30,504.60 412.10,495.50" fill="#ee8833"/>
<polygon points="407.70,500.60 418.10,500.60 412.90,491.50" fill="#ee8833"/>
<polygon points="408.50,496.60 418.90,496.60 413.70,487.50" fill="#ee8833"/>
<polygon points="409.30,492.60 419.70,492.60 414.50,483.50" fill="#ee8833"/>
<polygon points="410.10,488.60 420.50,488.60 415.30,479.50" fill="#ee8833"/>
<polygon points="410.90,484.60 421.30,484.60 416.10,475.50" fill="#ee8833"/>
<polygon points="411.70,480.60 422.10,480.60 416.90,471.50" fill="#ee8833"/>
<polygon points="412.60,476.60 423.00,476.60 417.80,467.50" fill="#ee8833"/>
<polygon points="413.60,472.10 424.00,472.10 418.80,463.00" fill="#ee8833"/>
<polygon points="414.70,467.10 425.10,467.10 419.90,458.00" fill="#ee8833"/>
<polygon points="416.10,461.10 426.50,461.10 421.30,452.00" fill="#ee8833"/>
<polygon points="417.70,454.60 428.10,454.60 422.90,445.50" fill="#ee8833"/>
<polygon points="420.10,445.10 430.50,445.10 425.30,436.00" fill="#ee8833"/>
<polygon points="423.20,433.10 433.60,433.10 428.40,424.00" fill="#ee8833"/>
<polygon points="427.50,420.90 437.90,420.90 432.70,411.80" fill="#ee8833"/>
<polygon points="434.80,405.60 445.20,405.60 440.00,396.50" fill="#ee8833"/>
<polygon points="442.90,391.10 453.30,391.10 448.10,382.00" fill="#ee8833"/>
<polygon points="452.20,375.60 462.60,375.60 457.40,366.50" fill="#ee8833"/>
<polygon points="464.40,360.80 474.80,360.80 469.60,351.70" fill="#ee8833"/>
<polygon points="479.40,345.70 489.80,345.70 484.60,336.60" fill="#ee8833"/>
<polygon points="497.10,332.50 507.50,332.50 502.30,323.40" fill="#ee8833"/>
<polygon points="517.30,322.80 527.70,322.80 522.50,313.70" fill="#ee8833"/>
<polygon points="538.10,316.90 548.50,316.90 543.30,307.80" fill="#ee8833"/>
<polygon points="560.10,316.10 570.50,316.10 565.30,307.00" fill="#ee8833"/>
<polygon points="582.50,319.40 592.90,319.40 587.70,310.30" fill="#ee8833"/>
<polygon points="603.80,326.40 614.20,326.40 609.00,317.30" fill="#ee8833"/>
<polygon points="623.60,337.40 634.00,337.40 628.80,328.30" fill="#ee8833"/>
<polygon points="642.30,350.80 652.70,350.80 647.50,341.70" fill="#ee8833"/>
<polygon points="660.80,366.70 671.20,366.70 666.00,357.60" fill="#ee8833"/>
<text x="403.2" y="514.00" font-size="18.8" text-anchor="end" font-weight="normal" fill="#000" letter-spacing="0.1" >0</text>
<text x="403.2" y="452.78" font-size="18.8" text-anchor="end" font-weight="normal" fill="#000" letter-spacing="0.1" >1000</text>
<text x="403.2" y="391.56" font-size="18.8" text-anchor="end" font-weight="normal" fill="#000" letter-spacing="0.1" >2000</text>
<text x="403.2" y="330.34" font-size="18.8" text-anchor="end" font-weight="normal" fill="#000" letter-spacing="0.1" >3000</text>
<text x="410.50" y="536.0" font-size="18.8" text-anchor="middle" font-weight="normal" fill="#000" letter-spacing="0.1" >0</text>
<text x="487.54" y="536.0" font-size="18.8" text-anchor="middle" font-weight="normal" fill="#000" letter-spacing="0.1" >2000</text>
<text x="564.58" y="536.0" font-size="18.8" text-anchor="middle" font-weight="normal" fill="#000" letter-spacing="0.1" >4000</text>
<text x="641.62" y="536.0" font-size="18.8" text-anchor="middle" font-weight="normal" fill="#000" letter-spacing="0.1" >6000</text>
<text x="516.0" y="560.8" font-size="18.5" text-anchor="start" font-weight="normal" fill="#000" letter-spacing="0.1" >Z' (ohm)</text>
<text transform="translate(356,436.2) rotate(-90)" font-size="18.5" letter-spacing="0.1">Z" (ohm)</text>
<text x="416.8" y="314.4" font-size="21.5" text-anchor="start" font-weight="normal" fill="#000" letter-spacing="0" >d)</text>
<line x1="472" y1="428.4" x2="500" y2="428.4" stroke="#0000ff" stroke-width="1.8"/>
<rect x="482.15" y="424.45" width="7.9" height="7.9" fill="#0000ff"/>
<text x="503.8" y="432.6" font-size="13.2" text-anchor="start" font-weight="bold" fill="#0000ff" letter-spacing="0.05" >BTH-1</text>
<line x1="472" y1="445.7" x2="500" y2="445.7" stroke="#ee8833" stroke-width="1.8"/>
<polygon points="480.80,449.30 491.40,449.30 486.10,440.10" fill="#ee8833"/>
<text x="503.8" y="449.9" font-size="13.2" text-anchor="start" font-weight="bold" fill="#ee8833" letter-spacing="0.05" >BTH-2</text>
<line x1="472" y1="462.4" x2="500" y2="462.4" stroke="#ff0000" stroke-width="1.8"/>
<circle cx="486.10" cy="462.40" r="4.35" fill="#ff0000"/>
<text x="503.8" y="466.6" font-size="13.2" text-anchor="start" font-weight="bold" fill="#ff0000" letter-spacing="0.05" >BTH-3</text>
</svg></body></html>
